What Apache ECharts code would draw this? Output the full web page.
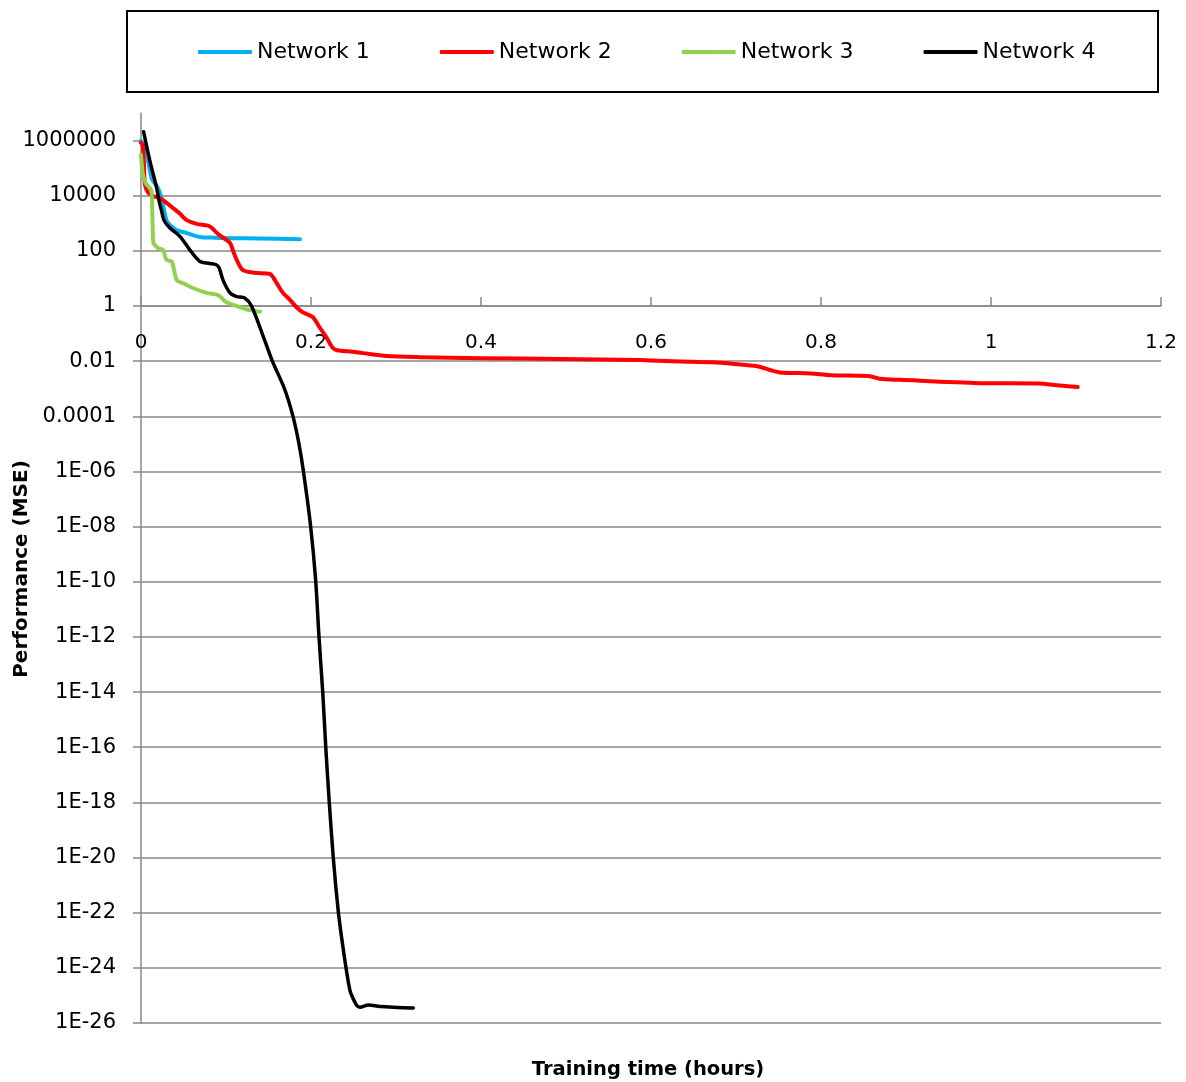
<!DOCTYPE html>
<html><head><meta charset="utf-8">
<script src="https://cdn.jsdelivr.net/npm/echarts@6/dist/echarts.min.js"></script>
<style>html,body{margin:0;padding:0;background:#fff}#c{width:1186px;height:1082px}</style>
</head><body><div id="c"></div>
<script>
const seriesNames = ['Network 1', 'Network 2', 'Network 3', 'Network 4'];
const seriesColors = ['#00B0F0', '#FF0000', '#92D050', '#000000'];

const net1Time = [0, 0.006, 0.0126, 0.02, 0.024, 0.03, 0.036, 0.042, 0.054, 0.069, 0.087, 0.105, 0.14, 0.187];
const net1Mse  = [980000, 400000, 43000, 19000, 8500, 1300, 750, 570, 440, 320, 300, 290, 280, 265];

const net2Time = [0, 0.002, 0.0035, 0.0047, 0.0086, 0.014, 0.0224, 0.029, 0.0376, 0.046, 0.0538, 0.0655, 0.0788, 0.0835, 0.089, 0.0965, 0.1047, 0.108, 0.1126, 0.12, 0.134, 0.1518, 0.156, 0.1596, 0.167, 0.175, 0.183, 0.19, 0.202, 0.21, 0.218, 0.225, 0.2306, 0.249, 0.261, 0.289, 0.328, 0.4, 0.493, 0.587, 0.6, 0.635, 0.672, 0.699, 0.725, 0.74, 0.752, 0.788, 0.811, 0.856, 0.869, 0.893, 0.987, 1.055, 1.081, 1.102];
const net2Mse  = [830000, 700000, 130000, 25000, 12600, 9800, 8100, 5900, 3600, 2200, 1300, 950, 820, 680, 450, 300, 195, 107, 47, 20, 16, 14.5, 10.4, 6.8, 3, 1.7, 0.9, 0.6, 0.4, 0.17, 0.075, 0.032, 0.025, 0.022, 0.0196, 0.0154, 0.014, 0.0129, 0.012, 0.011, 0.0105, 0.0097, 0.0091, 0.0079, 0.0066, 0.0048, 0.0039, 0.0036, 0.0031, 0.0029, 0.0023, 0.0021, 0.0016, 0.00155, 0.0013, 0.00115];

const net3Time = [0, 0.001, 0.0024, 0.006, 0.0106, 0.0124, 0.014, 0.0147, 0.02, 0.026, 0.03, 0.036, 0.039, 0.042, 0.049, 0.061, 0.077, 0.0906, 0.095, 0.1, 0.116, 0.128, 0.14];
const net3Mse  = [300000, 130000, 56000, 27000, 19000, 14000, 380, 195, 127, 107, 47, 41, 20, 8.7, 6.8, 4.5, 3.0, 2.5, 1.95, 1.4, 0.92, 0.71, 0.62];

const net4Time = [0.003, 0.0106, 0.0185, 0.021, 0.0244, 0.027, 0.034, 0.046, 0.0576, 0.0694, 0.081, 0.088, 0.092, 0.0965, 0.1047, 0.1126, 0.122, 0.130, 0.1439, 0.1547, 0.1688, 0.1788, 0.1856, 0.1909, 0.1996, 0.2055, 0.2094, 0.2138, 0.2173, 0.2215, 0.2262, 0.2321, 0.2361, 0.2412, 0.2459, 0.2498, 0.2538, 0.2576, 0.2674, 0.2812, 0.3204];
const net4Mse  = [2.1e6, 1.74e5, 1.86e4, 7000, 2650, 1300, 680, 330, 107, 41, 35, 32, 24, 8.7, 3.0, 2.2, 1.95, 1.0, 0.078, 0.0098, 1.0e-3, 1.0e-4, 1.1e-5, 1.1e-6, 1.0e-8, 1.1e-10, 1.0e-12, 1.0e-14, 1.1e-16, 1.0e-18, 1.0e-20, 1.1e-22, 1.2e-23, 1.0e-24, 1.5e-25, 7.4e-26, 4.3e-26, 3.7e-26, 4.5e-26, 4.0e-26, 3.5e-26];

// y axis in decades (log10 of MSE)
const yTickExponents = [-26, -24, -22, -20, -18, -16, -14, -12, -10, -8, -6, -4, -2, 0, 2, 4, 6];
const yTickLabels = ['1E-26', '1E-24', '1E-22', '1E-20', '1E-18', '1E-16', '1E-14', '1E-12', '1E-10', '1E-08', '1E-06', '0.0001', '0.01', '1', '100', '10000', '1000000'];
const yMinExp = -26, yMaxExp = 7, yStepExp = 2;
const xMin = 0, xMax = 1.2, xStep = 0.2;

const xTitle = 'Training time (hours)';
const yTitle = 'Performance (MSE)';

const times = [net1Time, net2Time, net3Time, net4Time];
const mses = [net1Mse, net2Mse, net3Mse, net4Mse];

const FONT = '"DejaVu Sans", sans-serif';
const GRID_COLOR = '#898989';
const GRID = { left: 141, right: 25, top: 113, bottom: 59 };
const gridHeight = 1082 - GRID.top - GRID.bottom;
// x axis crosses the y axis at MSE = 1 (exponent 0)
const xAxisOffset = -gridHeight * (0 - yMinExp) / (yMaxExp - yMinExp);

const chart = echarts.init(document.getElementById('c'), null, { renderer: 'canvas' });

const series = seriesNames.map((name, i) => ({
  name: name,
  type: 'line',
  symbol: 'none',
  smooth: 0.3,
  data: times[i].map((t, j) => [t, Math.log10(mses[i][j])]),
  itemStyle: { color: seriesColors[i] },
  lineStyle: { color: seriesColors[i], width: i === 3 ? 3.5 : 4, cap: 'round', join: 'round' },
  z: 2 + i
}));

chart.setOption({
  animation: false,
  backgroundColor: '#ffffff',
  grid: Object.assign({ containLabel: false }, GRID),
  legend: {
    data: seriesNames,
    left: 198,
    top: 41,
    padding: 0,
    itemWidth: 54,
    itemHeight: 4,
    itemGap: 70,
    icon: 'roundRect',
    textStyle: { fontFamily: FONT, fontSize: 22, color: '#000' }
  },
  xAxis: {
    type: 'value',
    min: xMin, max: xMax, interval: xStep,
    offset: xAxisOffset,
    axisLine: { show: true, onZero: false, lineStyle: { color: GRID_COLOR, width: 1.5 } },
    axisTick: { show: true, inside: true, length: 9, lineStyle: { color: GRID_COLOR, width: 1.5 } },
    axisLabel: { margin: 27, fontFamily: FONT, fontSize: 20, color: '#000' },
    splitLine: { show: false }
  },
  yAxis: {
    type: 'value',
    min: yMinExp, max: yMaxExp, interval: yStepExp,
    axisLine: { show: true, onZero: false, lineStyle: { color: GRID_COLOR, width: 1.5 } },
    axisTick: { show: true, length: 8, customValues: yTickExponents, lineStyle: { color: GRID_COLOR, width: 1.5 } },
    axisLabel: {
      margin: 25, fontFamily: FONT, fontSize: 21, color: '#000', showMaxLabel: false,
      formatter: function (v) {
        const k = yTickExponents.indexOf(Math.round(v));
        return k >= 0 && Math.abs(v - Math.round(v)) < 1e-6 ? yTickLabels[k] : '';
      }
    },
    splitLine: { show: true, showMaxLine: false, lineStyle: { color: GRID_COLOR, width: 1.5 } }
  },
  graphic: [
    { type: 'rect', shape: { x: 127, y: 11, width: 1031, height: 81 }, style: { fill: 'none', stroke: '#000', lineWidth: 2 }, silent: true },
    { type: 'text', x: 648, y: 1070, style: { text: xTitle, font: 'bold 19.5px ' + FONT, fill: '#000', textAlign: 'center', textVerticalAlign: 'middle' } },
    { type: 'text', x: 22, y: 569, rotation: Math.PI / 2, style: { text: yTitle, font: 'bold 20px ' + FONT, fill: '#000', textAlign: 'center', textVerticalAlign: 'middle' } }
  ],
  series: series
});
</script>
</body></html>
